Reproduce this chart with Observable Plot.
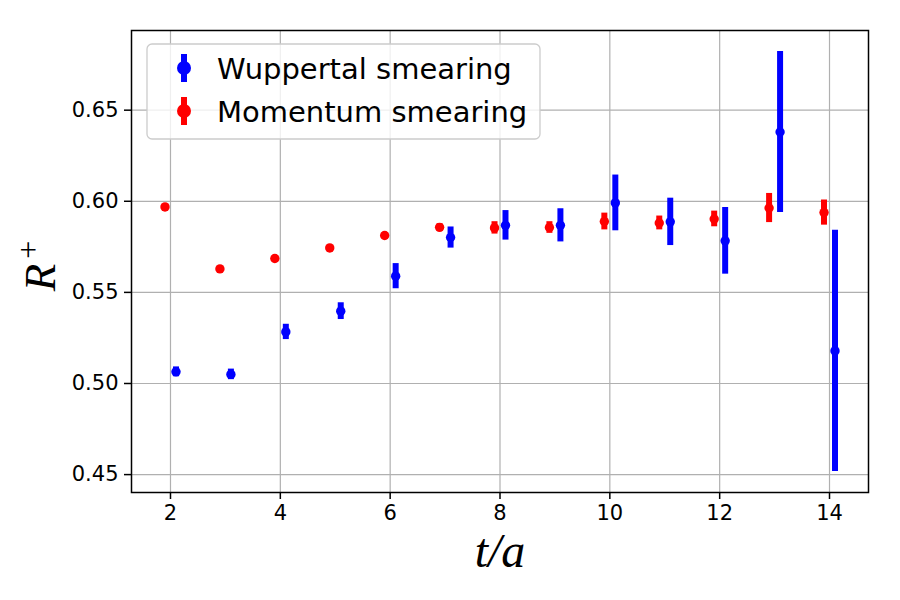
<!DOCTYPE html>
<html>
<head>
<meta charset="utf-8">
<script src="https://cdn.jsdelivr.net/npm/d3@7"></script>
<script src="https://cdn.jsdelivr.net/npm/@observablehq/plot@0.6"></script>
<style>
  body { margin: 0; background: #fff; }
  #chart svg { display: block; }
</style>
</head>
<body>
<div id="chart"></div>
<script>
// Ratio R+ versus Euclidean time t/a for two smearing schemes
const timeSlices = [2, 3, 4, 5, 6, 7, 8, 9, 10, 11, 12, 13, 14];

const wuppertalValues = [0.5064, 0.5050, 0.5283, 0.5397, 0.5589, 0.5801, 0.5868, 0.5868, 0.5991, 0.5887, 0.5783, 0.6380, 0.5179];
const wuppertalErrors = [0.0027, 0.0029, 0.0042, 0.0046, 0.0069, 0.0058, 0.0081, 0.0091, 0.0153, 0.0130, 0.0183, 0.0442, 0.0662];

const momentumValues = [0.5969, 0.5629, 0.5686, 0.5744, 0.5812, 0.5857, 0.5854, 0.5856, 0.5889, 0.5881, 0.5903, 0.5963, 0.5938];
const momentumErrors = [0.0010, 0.0012, 0.0013, 0.0014, 0.0016, 0.0020, 0.0034, 0.0032, 0.0046, 0.0038, 0.0043, 0.0080, 0.0069];

const seriesNames = ["Wuppertal smearing", "Momentum smearing"];
const seriesColors = ["#0000ff", "#ff0000"];
const seriesShift = [0.1, -0.1]; // horizontal offset so the two sets do not overlap

const xTicks = [2, 4, 6, 8, 10, 12, 14];
const yTicks = [0.45, 0.50, 0.55, 0.60, 0.65];

// Build one row per measurement
const rows = [];
[[wuppertalValues, wuppertalErrors], [momentumValues, momentumErrors]].forEach(([vals, errs], s) => {
  timeSlices.forEach((t, i) => {
    rows.push({
      series: seriesNames[s],
      t: t + seriesShift[s],
      value: vals[i],
      lo: vals[i] - errs[i],
      hi: vals[i] + errs[i]
    });
  });
});

// Axis limits with a 5% margin around the data
function padded(lo, hi) {
  const m = (hi - lo) * 0.05;
  return [lo - m, hi + m];
}
const xDomain = padded(d3.min(rows, d => d.t), d3.max(rows, d => d.t));
const yDomain = padded(d3.min(rows, d => d.lo), d3.max(rows, d => d.hi));

const gridStyle = { stroke: "#b0b0b0", strokeOpacity: 1, strokeWidth: 1.2 };

const chart = Plot.plot({
  width: 900,
  height: 600,
  marginLeft: 131,
  marginRight: 32,
  marginTop: 30,
  marginBottom: 108,
  style: { fontFamily: "DejaVu Sans", fontSize: "21px", background: "#ffffff", color: "#000000" },
  x: { domain: xDomain, label: null },
  y: { domain: yDomain, label: null },
  color: { domain: seriesNames, range: seriesColors },
  marks: [
    Plot.gridX(xTicks, gridStyle),
    Plot.gridY(yTicks, gridStyle),
    Plot.ruleX(rows, { x: "t", y1: "lo", y2: "hi", stroke: "series", strokeWidth: 6 }),
    Plot.dot(rows, { x: "t", y: "value", fill: "series", r: 4.7 }),
    Plot.frame({ stroke: "#000000", strokeWidth: 1.5 }),
    Plot.axisX(xTicks, { tickSize: 7, tickPadding: 6, strokeWidth: 1.5, label: null, tickFormat: d => String(d) }),
    Plot.axisY(yTicks, { tickSize: 7, tickPadding: 6, strokeWidth: 1.5, label: null, tickFormat: d => d.toFixed(2) })
  ]
});

document.getElementById("chart").appendChild(chart);

const svg = d3.select(chart);

// Axis titles in math italic
svg.append("text")
  .attr("transform", "translate(500,567)")
  .attr("text-anchor", "middle")
  .style("font-family", "'Liberation Serif', serif")
  .style("font-style", "italic")
  .style("font-size", "48px")
  .text("t/a");

const yTitle = svg.append("text")
  .attr("transform", "translate(55,266) rotate(-90)")
  .attr("text-anchor", "middle")
  .style("font-family", "'Liberation Serif', serif")
  .style("font-size", "45px");
yTitle.append("tspan").style("font-style", "italic").text("R");
yTitle.append("tspan").attr("dx", 5).attr("dy", -16).style("font-size", "32px").text("+");

// Legend box with error-bar handles
const legend = svg.append("g").attr("text-anchor", "start");
legend.append("rect")
  .attr("x", 147).attr("y", 44)
  .attr("width", 393).attr("height", 95)
  .attr("rx", 5)
  .attr("fill", "#ffffff").attr("fill-opacity", 0.8)
  .attr("stroke", "#cccccc").attr("stroke-width", 1.3);

seriesNames.forEach((name, i) => {
  const cy = 68 + i * 43;
  legend.append("line")
    .attr("x1", 184).attr("x2", 184)
    .attr("y1", cy - 14).attr("y2", cy + 14)
    .attr("stroke", seriesColors[i]).attr("stroke-width", 6);
  legend.append("circle")
    .attr("cx", 184).attr("cy", cy)
    .attr("r", 7).attr("fill", seriesColors[i]);
  legend.append("text")
    .attr("x", 217).attr("y", cy + 11)
    .attr("text-anchor", "start")
    .style("font-family", "'DejaVu Sans', sans-serif")
    .style("font-size", "29px")
    .attr("fill", "#000000")
    .text(name);
});
</script>
</body>
</html>
